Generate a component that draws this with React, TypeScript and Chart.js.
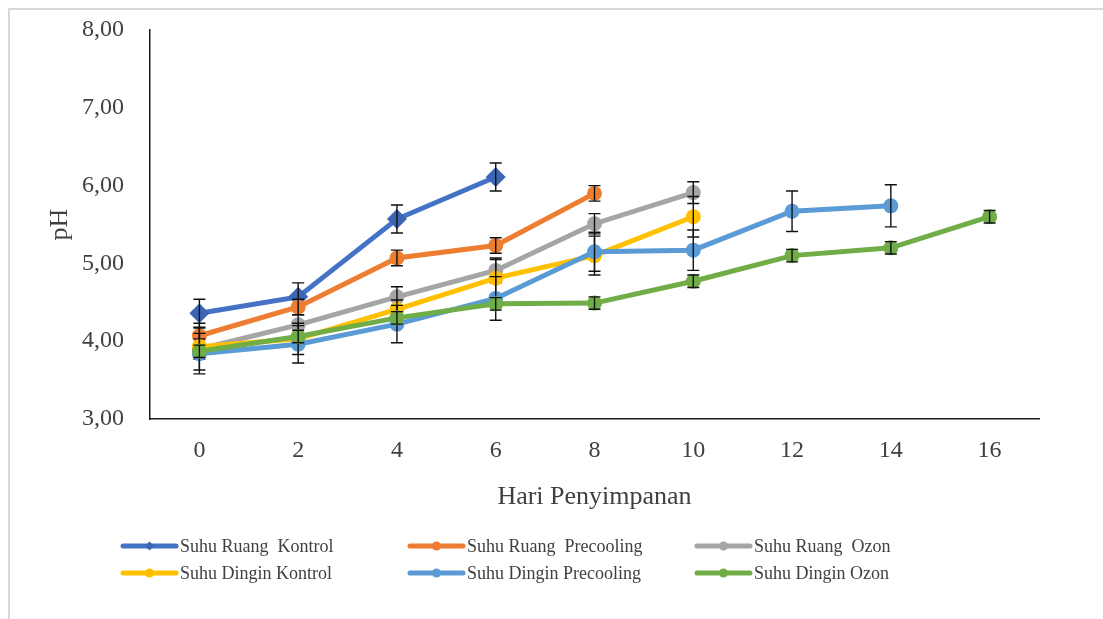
import React, { useEffect, useRef } from 'react';
import { Chart, registerables } from 'chart.js';

Chart.register(...registerables);

// Storage days (x categories)
const days = ['0', '2', '4', '6', '8', '10', '12', '14', '16'];

// Series names
const seriesNames = [
  'Suhu Ruang  Kontrol',
  'Suhu Ruang  Precooling',
  'Suhu Ruang  Ozon',
  'Suhu Dingin Kontrol',
  'Suhu Dingin Precooling',
  'Suhu Dingin Ozon',
];

// Mean pH per series and day
const ruangKontrol = [4.36, 4.57, 5.57, 6.11];
const ruangPrecooling = [4.07, 4.44, 5.07, 5.23, 5.9];
const ruangOzon = [3.9, 4.21, 4.57, 4.91, 5.51, 5.91];
const dinginKontrol = [3.93, 4.03, 4.41, 4.81, 5.1, 5.6];
const dinginPrecooling = [3.84, 3.96, 4.22, 4.55, 5.15, 5.17, 5.67, 5.74];
const dinginOzon = [3.87, 4.06, 4.3, 4.48, 4.49, 4.77, 5.1, 5.2, 5.6];

// Standard deviation per point (error bars)
const ruangKontrolErr = [0.18, 0.18, 0.18, 0.18];
const ruangPrecoolingErr = [0.1, 0.1, 0.1, 0.1, 0.1];
const ruangOzonErr = [0.13, 0.13, 0.13, 0.16, 0.13, 0.14];
const dinginKontrolErr = [0.3, 0.2, 0.12, 0.24, 0.25, 0.26];
const dinginPrecoolingErr = [0.26, 0.24, 0.24, 0.28, 0.25, 0.26, 0.26, 0.27];
const dinginOzonErr = [0.08, 0.08, 0.08, 0.08, 0.08, 0.08, 0.08, 0.08, 0.08];

// Y axis range
const yMin = 3;
const yMax = 8;
const yStep = 1;

const seriesValues = [ruangKontrol, ruangPrecooling, ruangOzon, dinginKontrol, dinginPrecooling, dinginOzon];
const seriesErrors = [ruangKontrolErr, ruangPrecoolingErr, ruangOzonErr, dinginKontrolErr, dinginPrecoolingErr, dinginOzonErr];
const lineColors = ['#4472C4', '#ED7D31', '#A5A5A5', '#FFC000', '#5B9BD5', '#70AD47'];
const markerColors = ['#3C65B3', '#ED7D31', '#A5A5A5', '#FFC000', '#5B9BD5', '#70AD47'];
const markerStyles = ['rectRot', 'circle', 'circle', 'circle', 'circle', 'circle'];

const SERIF = '"Liberation Serif", "Times New Roman", serif';
const TEXT = '#404040';

// Pads a series with nulls so it spans every category
const padSeries = (vals: number[]) => days.map((_, i) => (i < vals.length ? vals[i] : null));

// Vertical error bars with caps, drawn right after each series
const errorBarPlugin = {
  id: 'errorBars',
  afterDatasetDraw(chart: any, args: any) {
    const errs = seriesErrors[args.index];
    const vals = seriesValues[args.index];
    if (!errs) return;
    const { ctx } = chart;
    const yScale = chart.scales.y;
    ctx.save();
    ctx.strokeStyle = '#111';
    ctx.lineWidth = 1.4;
    args.meta.data.forEach((pt: any, j: number) => {
      if (j >= vals.length || errs[j] == null) return;
      const x = pt.x;
      const top = yScale.getPixelForValue(vals[j] + errs[j]);
      const bot = yScale.getPixelForValue(vals[j] - errs[j]);
      ctx.beginPath();
      ctx.moveTo(x, top);
      ctx.lineTo(x, bot);
      ctx.moveTo(x - 6, top);
      ctx.lineTo(x + 6, top);
      ctx.moveTo(x - 6, bot);
      ctx.lineTo(x + 6, bot);
      ctx.stroke();
    });
    ctx.restore();
  },
};

// Legend laid out as a 3-column grid below the axis title
const LEGEND_COLS = [111, 398, 685];
const LEGEND_ROWS = [536, 563];
const gridLegendPlugin = {
  id: 'gridLegend',
  afterDraw(chart: any) {
    const { ctx } = chart;
    seriesNames.forEach((name, i) => {
      const x = LEGEND_COLS[i % 3];
      const y = LEGEND_ROWS[Math.floor(i / 3)];
      ctx.save();
      ctx.strokeStyle = lineColors[i];
      ctx.lineWidth = 5;
      ctx.lineCap = 'round';
      ctx.beginPath();
      ctx.moveTo(x + 2, y);
      ctx.lineTo(x + 55, y);
      ctx.stroke();
      ctx.fillStyle = markerColors[i];
      const cx = x + 28.5;
      ctx.beginPath();
      if (markerStyles[i] === 'rectRot') {
        ctx.moveTo(cx - 4.5, y);
        ctx.lineTo(cx, y - 4.5);
        ctx.lineTo(cx + 4.5, y);
        ctx.lineTo(cx, y + 4.5);
        ctx.closePath();
      } else {
        ctx.arc(cx, y, 4.5, 0, Math.PI * 2);
      }
      ctx.fill();
      ctx.fillStyle = TEXT;
      ctx.font = `18px ${SERIF}`;
      ctx.textBaseline = 'middle';
      ctx.textAlign = 'left';
      ctx.fillText(name, x + 59, y + 1);
      ctx.restore();
    });
  },
};

export default function App() {
  const canvasRef = useRef<HTMLCanvasElement | null>(null);

  useEffect(() => {
    if (!canvasRef.current) return;
    const datasets = seriesNames.map((name, i) => ({
      label: name,
      data: padSeries(seriesValues[i]),
      borderColor: lineColors[i],
      backgroundColor: markerColors[i],
      borderWidth: 5,
      pointStyle: markerStyles[i],
      pointRadius: markerStyles[i] === 'rectRot' ? 10 : 7.5,
      pointBackgroundColor: markerColors[i],
      pointBorderColor: markerColors[i],
      pointBorderWidth: 0,
      tension: 0,
      fill: false,
      spanGaps: false,
      // later series sit on top of earlier ones
      order: seriesNames.length - 1 - i,
    }));

    const chart = new Chart(canvasRef.current, {
      type: 'line',
      data: { labels: days, datasets },
      plugins: [errorBarPlugin, gridLegendPlugin],
      options: {
        animation: false,
        responsive: true,
        maintainAspectRatio: false,
        layout: { padding: { left: 34.4, right: 64, top: 20, bottom: 106.4 } },
        plugins: {
          legend: { display: false },
          tooltip: { enabled: false },
        },
        scales: {
          x: {
            type: 'category',
            offset: true,
            grid: { display: false, drawTicks: false },
            border: { display: true, color: '#1a1a1a', width: 1.5 },
            ticks: {
              color: TEXT,
              font: { family: SERIF, size: 24 },
              padding: 17,
              autoSkip: false,
              maxRotation: 0,
            },
            title: {
              display: true,
              text: 'Hari Penyimpanan',
              color: TEXT,
              font: { family: SERIF, size: 26 },
              padding: 0,
            },
            afterFit: (scale: any) => {
              scale.height = 93.6;
            },
          },
          y: {
            min: yMin,
            max: yMax,
            // invisible tick marks keep the labels clear of the axis line
            grid: {
              display: true,
              drawOnChartArea: false,
              drawTicks: true,
              tickLength: 26,
              color: 'rgba(0,0,0,0)',
            },
            border: { display: true, color: '#1a1a1a', width: 1.5 },
            ticks: {
              stepSize: yStep,
              color: TEXT,
              font: { family: SERIF, size: 24 },
              padding: 0,
              callback: (v: any) => Number(v).toFixed(2).replace('.', ','),
            },
            title: {
              display: true,
              text: 'pH',
              color: TEXT,
              font: { family: SERIF, size: 26 },
              padding: 0,
            },
            afterFit: (scale: any) => {
              scale.width = 105.6;
            },
          },
        },
      },
    });
    return () => chart.destroy();
  }, []);

  return (
    <div
      style={{
        position: 'fixed',
        left: 8,
        top: 8,
        right: 0,
        bottom: 0,
        borderLeft: '2px solid #d9d9d9',
        borderTop: '2px solid #d9d9d9',
        background: '#fff',
      }}
    >
      <canvas ref={canvasRef} />
    </div>
  );
}
